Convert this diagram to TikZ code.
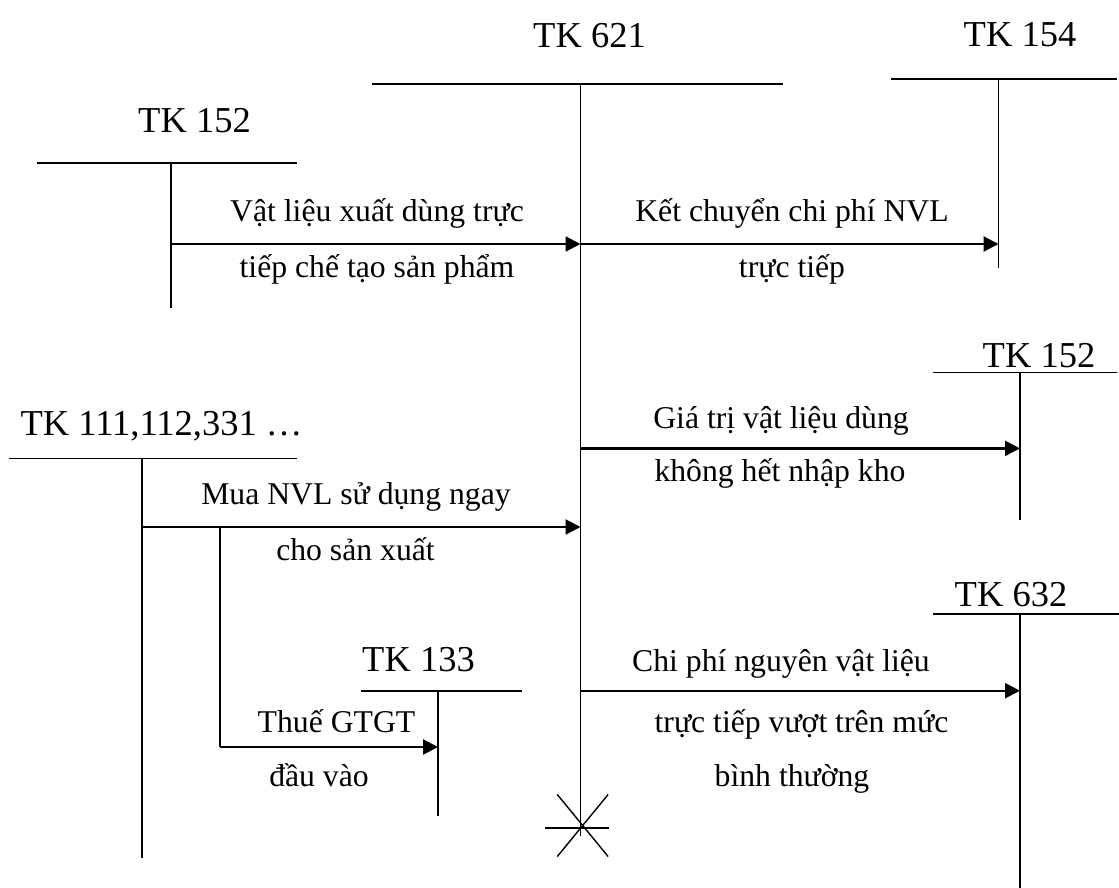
\documentclass[tikz,border=0pt]{standalone}
\usepackage{fontspec}
\setmainfont{Liberation Serif}
\usetikzlibrary{arrows.meta}
\tikzset{
  tline/.style={line width=1.6pt, line cap=rect},
  flow/.style={line width=2.2pt, -{Triangle[length=15pt,width=15pt]}},
  plain/.style={line width=2.2pt},
  title/.style={anchor=base, inner sep=0pt, font=\fontsize{36.5}{40}\selectfont},
  lbl/.style={anchor=base, inner sep=0pt, font=\fontsize{31.7}{36}\selectfont}
}
\begin{document}
\begin{tikzpicture}[x=1pt,y=-1pt]
\useasboundingbox[fill=white] (0,0) rectangle (1119,887);

% ---- T accounts ----
% TK 621
\node[title] (t621) at (589.5,47) {TK 621};
\coordinate (h621a) at (373,84); \coordinate (h621b) at (782,84);
\coordinate (v621top) at (580.5,84); \coordinate (v621bot) at (580.5,835);
\draw[tline] (h621a) -- (h621b);
\draw[tline] (v621top) -- (v621bot);
% closing cross
\coordinate (xa) at (545.7,827.7); \coordinate (xb) at (607.7,827.7);
\coordinate (xc) at (557.7,795); \coordinate (xd) at (607.7,856);
\coordinate (xe) at (607.7,795); \coordinate (xf) at (557.7,856);
\draw[tline] (xa) -- (xb);
\draw[tline, line width=1.4pt] (xc) -- (xd);
\draw[tline, line width=1.4pt] (xe) -- (xf);

% TK 152 (left)
\node[title] (t152a) at (194.5,132) {TK 152};
\coordinate (h152a) at (37.5,163); \coordinate (h152b) at (296,163);
\coordinate (v152top) at (170.7,163); \coordinate (v152bot) at (170.7,307);
\draw[tline] (h152a) -- (h152b);
\draw[tline] (v152top) -- (v152bot);

% TK 154
\node[title] (t154) at (1020,46) {TK 154};
\coordinate (h154a) at (892,79); \coordinate (h154b) at (1116,79);
\coordinate (v154top) at (998.5,79); \coordinate (v154bot) at (998.5,267);
\draw[tline] (h154a) -- (h154b);
\draw[tline] (v154top) -- (v154bot);

% TK 152 (right)
\node[title] (t152b) at (1039,367.7) {TK 152};
\coordinate (h152c) at (933.5,372.4); \coordinate (h152d) at (1116,372.4);
\coordinate (v152btop) at (1020,372.4); \coordinate (v152bbot) at (1020,519);
\draw[tline] (h152c) -- (h152d);
\draw[tline] (v152btop) -- (v152bbot);

% TK 111,112,331
\node[title] (t111) at (161.5,435) {TK 111,112,331 …};
\coordinate (h111a) at (9.6,458.5); \coordinate (h111b) at (296,458.5);
\coordinate (v111top) at (142,458.5); \coordinate (v111bot) at (142,857);
\draw[tline] (h111a) -- (h111b);
\draw[tline] (v111top) -- (v111bot);

% TK 133
\node[title] (t133) at (418.5,671.5) {TK 133};
\coordinate (h133a) at (362,690.7); \coordinate (h133b) at (521,690.7);
\coordinate (v133top) at (438,690.7); \coordinate (v133bot) at (438,815.5);
\draw[tline] (h133a) -- (h133b);
\draw[tline] (v133top) -- (v133bot);

% TK 632
\node[title] (t632) at (1011,606.8) {TK 632};
\coordinate (h632a) at (933.5,613.7); \coordinate (h632b) at (1119,613.7);
\coordinate (v632top) at (1020,613.7); \coordinate (v632bot) at (1020,887);
\draw[tline] (h632a) -- (h632b);
\draw[tline] (v632top) -- (v632bot);

% ---- flows ----
\coordinate (f1s) at (170.7,244); \coordinate (f1e) at (580.5,244);
\draw[flow] (f1s) -- (f1e);
\node[lbl] (l1a) at (377,221) {Vật liệu xuất dùng trực};
\node[lbl] (l1b) at (377,277) {tiếp chế tạo sản phẩm};

\coordinate (f2s) at (580.5,244); \coordinate (f2e) at (998.5,244);
\draw[flow] (f2s) -- (f2e);
\node[lbl] (l2a) at (792,221) {Kết chuyển chi phí NVL};
\node[lbl] (l2b) at (792,277) {trực tiếp};

\coordinate (f3s) at (580.5,448.4); \coordinate (f3e) at (1020,448.4);
\draw[flow] (f3s) -- (f3e);
\node[lbl] (l3a) at (781,428) {Giá trị vật liệu dùng};
\node[lbl] (l3b) at (780,481.7) {không hết nhập kho};

\coordinate (f4s) at (142,527); \coordinate (f4e) at (580.5,527);
\draw[flow] (f4s) -- (f4e);
\node[lbl] (l4a) at (356,504.5) {Mua NVL sử dụng ngay};
\node[lbl] (l4b) at (355.5,560.5) {cho sản xuất};

\coordinate (f5s) at (220,527); \coordinate (f5m) at (220,747); \coordinate (f5e) at (438,747);
\draw[plain] (f5s) -- (f5m);
\draw[flow] (f5m) -- (f5e);
\node[lbl] (l5a) at (336.5,732) {Thuế GTGT};
\node[lbl] (l5b) at (319,786.5) {đầu vào};

\coordinate (f6s) at (580.5,690.7); \coordinate (f6e) at (1020,690.7);
\draw[flow] (f6s) -- (f6e);
\node[lbl] (l6a) at (781,671.5) {Chi phí nguyên vật liệu};
\node[lbl] (l6b) at (801.5,732) {trực tiếp vượt trên mức};
\node[lbl] (l6c) at (792,786.5) {bình thường};
\end{tikzpicture}
\end{document}
